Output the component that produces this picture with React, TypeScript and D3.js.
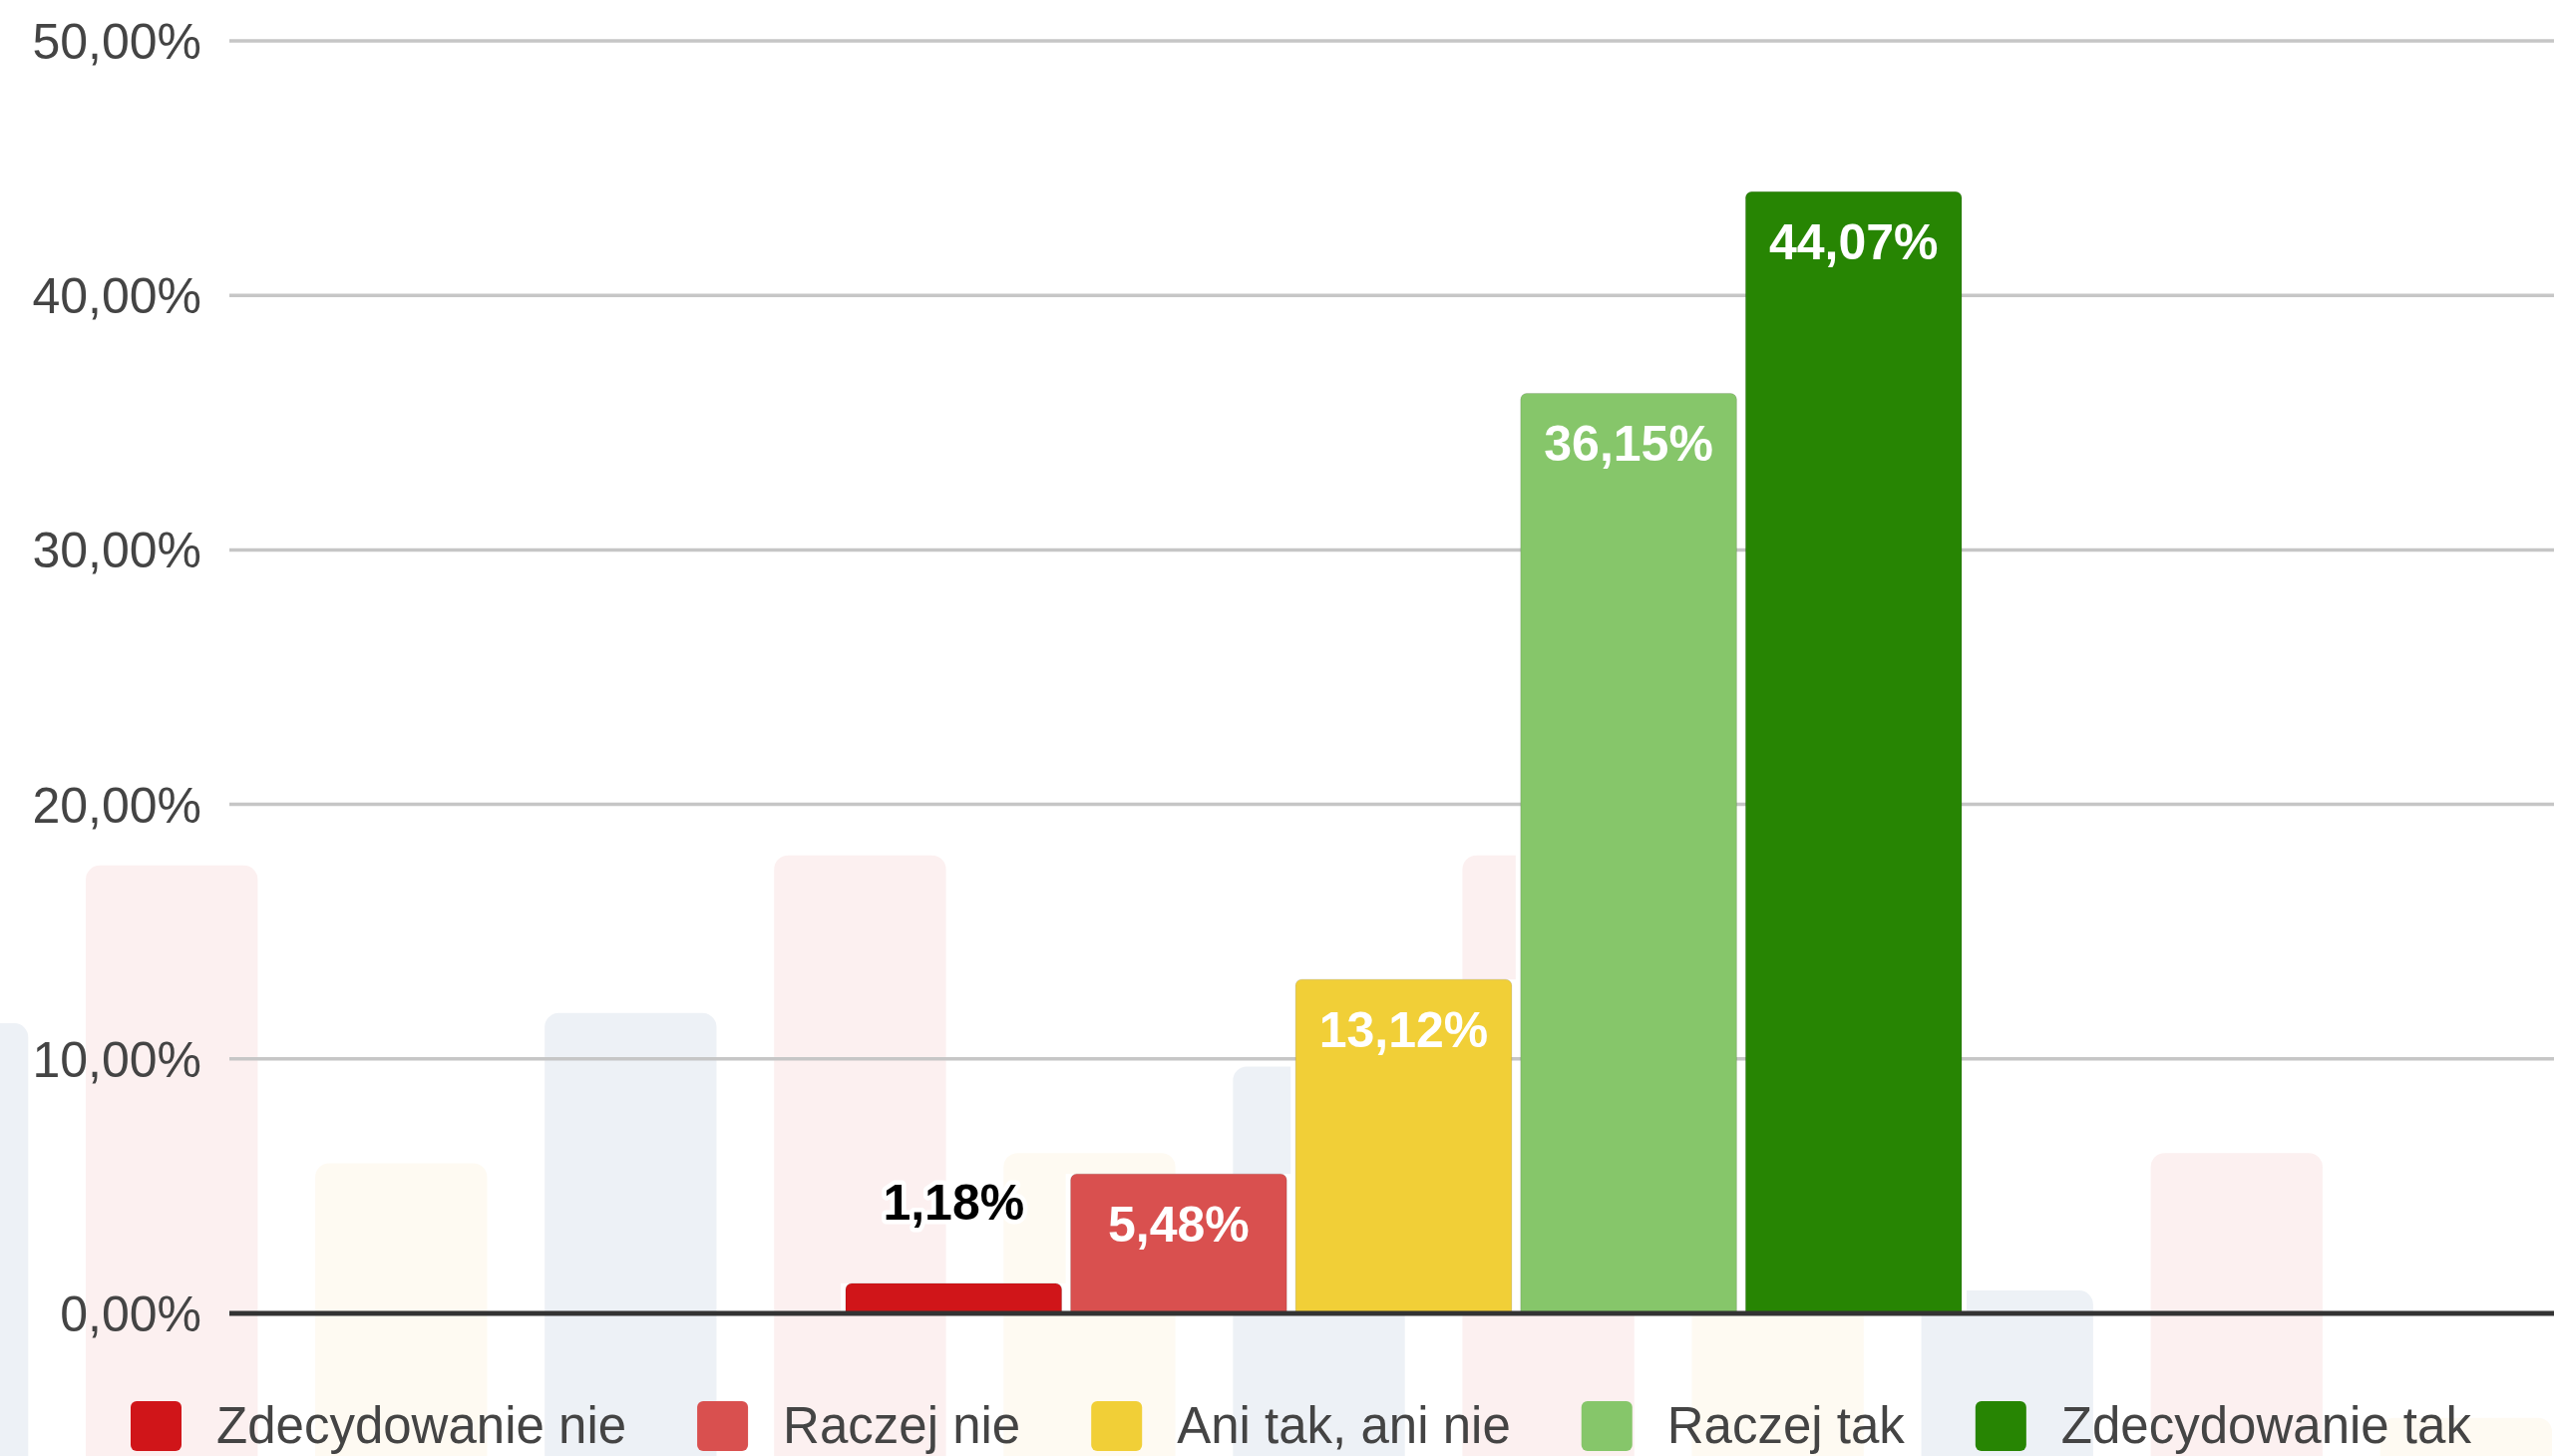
import React from 'react';
import * as d3 from 'd3';

const categories = ['Zdecydowanie nie', 'Raczej nie', 'Ani tak, ani nie', 'Raczej tak', 'Zdecydowanie tak'];
const values = [1.18, 5.48, 13.12, 36.15, 44.07];
const barColors = ['#d01519', '#d9504f', '#f1cf37', '#86c66a', '#278503'];

// faded bars of the background picture, same % scale
const ghostValues = [11.4, 17.6, 5.9, 11.8, 18.0, 6.3, 9.7, 18.0, 6.3, 0.9, 6.3, -4.1];
const ghostColors = ['#edf1f6', '#fcf0f0', '#fefaf2'];

const W = 2561;
const H = 1460;
const font = '"Liberation Sans", Arial, sans-serif';
const legendSize = 51;

const pl = d3.formatLocale({ decimal: ',', thousands: ' ', grouping: [3], currency: ['', ' zł'] });
const fmt = (v: number) => pl.format('.2f')(v) + '%';

const y = d3.scaleLinear().domain([0, 50]).range([1317, 41]);
const x = d3.scaleBand<string>().domain(categories).range([848, 1967]).paddingInner(0.04);
const gx = d3.scaleBand<number>().domain(d3.range(ghostValues.length)).range([-144, 2559]).paddingInner(0.251);

const topRounded = (x0: number, y0: number, w: number, h: number, r: number) => {
  const p = d3.path();
  p.moveTo(x0, y0 + h);
  p.lineTo(x0, y0 + r);
  p.arcTo(x0, y0, x0 + r, y0, r);
  p.lineTo(x0 + w - r, y0);
  p.arcTo(x0 + w, y0, x0 + w, y0 + r, r);
  p.lineTo(x0 + w, y0 + h);
  p.closePath();
  return p.toString();
};

function measure(text: string) {
  const ctx = document.createElement('canvas').getContext('2d');
  if (!ctx) return text.length * 25;
  ctx.font = `${legendSize}px ${font}`;
  return ctx.measureText(text).width;
}

export default function App() {
  document.body.style.margin = '0';

  // legend layout, left to right
  let lx = 131;
  const legend = categories.map((c, i) => {
    const item = { c, color: barColors[i], sx: lx, tx: lx + 86 };
    lx = item.tx + measure(c) + 71;
    return item;
  });

  return (
    <svg width={W} height={H} style={{ display: 'block', background: '#fff' }} fontFamily={font}>
      {ghostValues.map((v, i) => (
        <path key={'g' + i}
          d={topRounded(gx(i)!, y(v), gx.bandwidth(), H - y(v) + 20, 14)}
          fill={ghostColors[i % 3]} />
      ))}

      {/* white under the bars so the background doesn't show in the gaps */}
      {categories.map((c, i) => (
        <rect key={'w' + i} x={x(c)! - 5} y={y(values[i])} width={x.bandwidth() + 10}
          height={y(0) - y(values[i])} fill="#fff" />
      ))}

      {y.ticks(5).map(t => (
        <g key={'t' + t}>
          {t !== 0 && <line x1={230} x2={W} y1={y(t)} y2={y(t)} stroke="#c6c6c6" strokeWidth={3.5} />}
          <text x={202} y={y(t) + 18} textAnchor="end" fontSize={50} fill="#444">{fmt(t)}</text>
        </g>
      ))}

      {categories.map((c, i) => (
        <path key={'b' + i}
          d={topRounded(x(c)!, y(values[i]), x.bandwidth(), y(0) - y(values[i]), 6)}
          fill={barColors[i]} stroke="rgba(0,0,0,0.12)" strokeWidth={1} />
      ))}

      <line x1={230} x2={W} y1={y(0)} y2={y(0)} stroke="#333" strokeWidth={5} />

      {categories.map((c, i) => {
        const inside = y(0) - y(values[i]) > 100;
        const cx = x(c)! + x.bandwidth() / 2;
        return inside ? (
          <text key={'l' + i} x={cx} y={y(values[i]) + 68} textAnchor="middle"
            fontSize={50} fontWeight="bold" fill="#fff">{fmt(values[i])}</text>
        ) : (
          <text key={'l' + i} x={cx} y={y(values[i]) - 64} textAnchor="middle"
            fontSize={50} fontWeight="bold" fill="#000" stroke="#fff" strokeWidth={9}
            strokeLinejoin="round" style={{ paintOrder: 'stroke' }}>{fmt(values[i])}</text>
        );
      })}

      {legend.map(l => (
        <g key={'k' + l.c}>
          <rect x={l.sx} y={1405} width={51} height={50} rx={6} fill={l.color} />
          <text x={l.tx} y={1447} fontSize={legendSize} fill="#444">{l.c}</text>
        </g>
      ))}
    </svg>
  );
}
